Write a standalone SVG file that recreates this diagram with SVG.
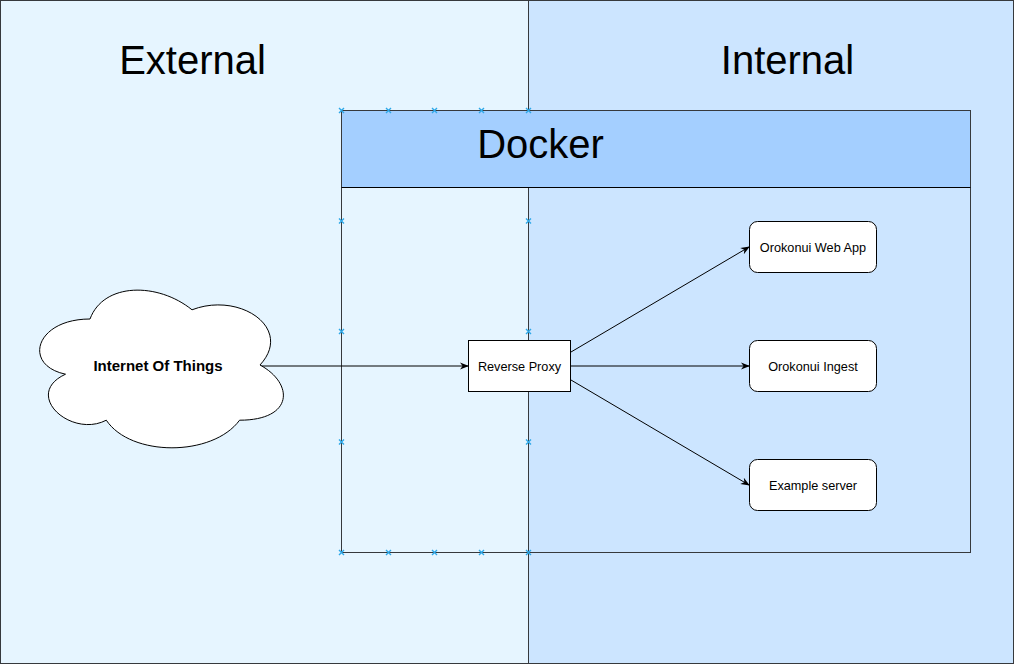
<svg xmlns="http://www.w3.org/2000/svg" width="1016" height="666" viewBox="0 0 1016 666">
<style>
.panel{stroke:#36393d;stroke-width:1}
.title{font-family:"Liberation Sans",Arial,sans-serif;font-size:40px;fill:#000;text-anchor:middle}
.lbl{font-family:"Liberation Sans",Arial,sans-serif;font-size:12.7px;fill:#000;text-anchor:middle}
.node{fill:#fff;stroke:#000;stroke-width:1}
.edge{stroke:#000;stroke-width:1;fill:none;marker-end:url(#arr)}
.mk{stroke:#2ea8e8;stroke-width:1.4;fill:none}
</style>
<defs>
<marker id="arr" viewBox="0 0 10 10" refX="9" refY="5" markerWidth="9" markerHeight="9" markerUnits="userSpaceOnUse" orient="auto">
<path d="M0,1 L10,5 L0,9 L3,5 Z" fill="#000"/>
</marker>
<path id="x" d="M-2.5,-2.5 L2.5,2.5 M-2.5,2.5 L2.5,-2.5" class="mk"/>
</defs>
<g id="external">
<rect class="panel" x="0.5" y="0.5" width="528" height="663" fill="#e6f5ff"/>
<text class="title" x="192.5" y="74">External</text>
</g>
<g id="internal">
<rect class="panel" x="528.5" y="0.5" width="485" height="663" fill="#cce5ff"/>
<text class="title" x="787.5" y="74">Internal</text>
</g>
<g id="docker">
<rect x="341.5" y="110.5" width="629" height="77" fill="#a4cfff" stroke="none"/>
<rect x="341.5" y="110.5" width="629" height="442" fill="none" stroke="#36393d"/>
<line x1="341.5" y1="187.5" x2="970.5" y2="187.5" stroke="#000"/>
<text class="title" x="540.5" y="158">Docker</text>
<g>
<use href="#x" x="341.5" y="110.5"/><use href="#x" x="388.5" y="110.5"/><use href="#x" x="434.5" y="110.5"/><use href="#x" x="481.5" y="110.5"/><use href="#x" x="528.5" y="110.5"/>
<use href="#x" x="341.5" y="221"/><use href="#x" x="341.5" y="331.5"/><use href="#x" x="341.5" y="442"/><use href="#x" x="341.5" y="552.5"/>
<use href="#x" x="388.5" y="552.5"/><use href="#x" x="434.5" y="552.5"/><use href="#x" x="481.5" y="552.5"/><use href="#x" x="528.5" y="552.5"/>
<use href="#x" x="528.5" y="221"/><use href="#x" x="528.5" y="331.5"/><use href="#x" x="528.5" y="442"/>
</g>
</g>
<g id="connectors">
<line class="edge" x1="260" y1="366" x2="468" y2="366"/>
<line class="edge" x1="571" y1="352" x2="749" y2="247"/>
<line class="edge" x1="571" y1="366" x2="749" y2="366"/>
<line class="edge" x1="571" y1="380" x2="749" y2="485"/>
</g>
<g id="iot">
<path class="node" d="M90,319 C35.6,319 22,365 65.5,374.2 C22,394.4 71,438.6 106.3,420.2 C130.8,457 212.4,457 239.6,420.2 C294,420.2 294,383.4 260,365 C294,328.2 239.6,291.4 192,309.8 C158,282.2 103.6,282.2 90,319 Z"/>
<text class="lbl" x="158" y="371" style="font-size:15px;font-weight:bold">Internet Of Things</text>
</g>
<g id="proxy">
<rect class="node" x="468.5" y="340.5" width="102" height="51"/>
<text class="lbl" x="519.5" y="370.5">Reverse Proxy</text>
</g>
<g id="webapp">
<rect class="node" x="749.5" y="221.5" width="127" height="51" rx="8"/>
<text class="lbl" x="813" y="251.5">Orokonui Web App</text>
</g>
<g id="ingest">
<rect class="node" x="749.5" y="340.5" width="127" height="51" rx="8"/>
<text class="lbl" x="813" y="370.5">Orokonui Ingest</text>
</g>
<g id="example">
<rect class="node" x="749.5" y="459.5" width="127" height="51" rx="8"/>
<text class="lbl" x="813" y="489.5">Example server</text>
</g>
</svg>
